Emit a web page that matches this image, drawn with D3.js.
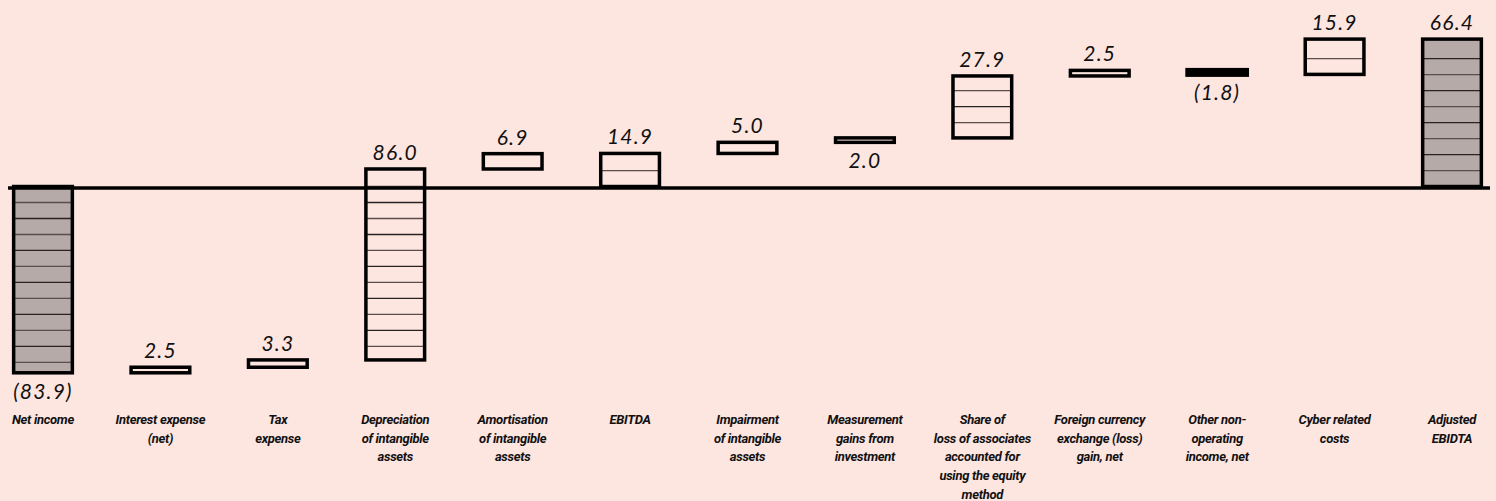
<!DOCTYPE html>
<html>
<head>
<meta charset="utf-8">
<script src="https://cdn.jsdelivr.net/npm/d3@7"></script>
<style>
  body { margin: 0; background: #fde5e0; }
  svg { display: block; }
</style>
</head>
<body>
<div id="wrapper"></div>
<script>
// data
const categories = [
  "Net income", "Interest expense (net)", "Tax expense", "Depreciation of intangible assets",
  "Amortisation of intangible assets", "EBITDA", "Impairment of intangible assets",
  "Measurement gains from investment", "Share of loss of associates accounted for using the equity method",
  "Foreign currency exchange (loss) gain, net", "Other non-operating income, net",
  "Cyber related costs", "Adjusted EBIDTA"
];
const labelLines = [
  ["Net income"], ["Interest expense", "(net)"], ["Tax", "expense"],
  ["Depreciation", "of intangible", "assets"], ["Amortisation", "of intangible", "assets"],
  ["EBITDA"], ["Impairment", "of intangible", "assets"], ["Measurement", "gains from", "investment"],
  ["Share of", "loss of associates", "accounted for", "using the equity", "method"],
  ["Foreign currency", "exchange (loss)", "gain, net"], ["Other non-", "operating", "income, net"],
  ["Cyber related", "costs"], ["Adjusted", "EBIDTA"]
];
const values = [-83.9, 2.5, 3.3, 86.0, 6.9, 14.9, 5.0, 2.0, 27.9, 2.5, -1.8, 15.9, 66.4];
// total = starts at zero and filled, subtotal = starts at zero, delta = floats
const kinds = ["total", "delta", "delta", "delta", "delta", "subtotal", "delta",
  "delta", "delta", "delta", "delta", "delta", "total"];
const labelsBelow = ["Measurement gains from investment"];

function drawWaterfall() {
  const width = 1496, height = 501;

  // running sum for the floating bars
  let cum = 0;
  const bars = categories.map((c, i) => {
    let lo, hi;
    if (kinds[i] === "delta") {
      lo = Math.min(cum, cum + values[i]);
      hi = Math.max(cum, cum + values[i]);
      cum += values[i];
    } else {
      lo = Math.min(0, values[i]);
      hi = Math.max(0, values[i]);
      cum = values[i];
    }
    return { cat: c, value: values[i], kind: kinds[i], lo, hi, lines: labelLines[i] };
  });

  const svg = d3.select("#wrapper").append("svg")
    .attr("width", width)
    .attr("height", height);

  svg.append("rect").attr("width", width).attr("height", height).attr("fill", "#fde5e0");

  const xScale = d3.scalePoint().domain(categories).range([43, 1452]);
  const barW = xScale.step() * 0.5;

  const yScale = d3.scaleLinear()
    .domain([d3.min(bars, d => d.lo), d3.max(bars, d => d.hi)])
    .range([372.8, 39.1]);

  const fmt = v => v < 0 ? `(${d3.format(".1f")(-v)})` : d3.format(".1f")(v);

  const g = svg.append("g");

  const barG = g.selectAll("g.bar")
    .data(bars)
    .enter()
    .append("g")
    .attr("class", "bar");

  // fill
  barG.append("rect")
    .attr("x", d => xScale(d.cat) - barW / 2)
    .attr("y", d => yScale(d.hi))
    .attr("width", barW)
    .attr("height", d => yScale(d.lo) - yScale(d.hi))
    .attr("fill", d => d.kind === "total" ? "#b6aaa8" : (d.value < 0 ? "#000" : "none"));

  // hatch lines inside the bars, every 7.2 units on a grid from zero
  const step = 7.2;
  barG.each(function (d) {
    if (d.kind === "delta" && d.value < 0) return;
    const ticks = d3.range(Math.ceil(d.lo / step), Math.floor(d.hi / step) + 1)
      .map(k => k * step)
      .filter(v => v - d.lo > 2.5 && d.hi - v > 2);
    d3.select(this).selectAll("line.hatch")
      .data(ticks)
      .enter()
      .append("line")
      .attr("class", "hatch")
      .attr("x1", xScale(d.cat) - barW / 2)
      .attr("x2", xScale(d.cat) + barW / 2)
      .attr("y1", v => yScale(v))
      .attr("y2", v => yScale(v))
      .attr("stroke", (v, i) => i % 2 ? "#2a2222" : "#5a4e4c")
      .attr("stroke-width", 1.3);
  });

  // outline
  barG.append("rect")
    .attr("x", d => xScale(d.cat) - barW / 2)
    .attr("y", d => yScale(d.hi))
    .attr("width", barW)
    .attr("height", d => yScale(d.lo) - yScale(d.hi))
    .attr("fill", "none")
    .attr("stroke", "#000")
    .attr("stroke-width", d => d.value < 0 && d.kind === "delta" ? 5 : 3.5);

  // zero line
  g.append("line")
    .attr("x1", 8)
    .attr("x2", 1490)
    .attr("y1", yScale(0) + 1.5)
    .attr("y2", yScale(0) + 1.5)
    .attr("stroke", "#000")
    .attr("stroke-width", 3.3);

  // value labels
  barG.append("text")
    .attr("x", d => xScale(d.cat))
    .attr("y", d => {
      const below = d.value < 0 || labelsBelow.includes(d.cat);
      return below ? yScale(d.lo) + 26 : yScale(d.hi) - 9;
    })
    .attr("text-anchor", "middle")
    .style("font-family", "Lato, 'Open Sans', sans-serif")
    .style("font-style", "italic")
    .style("font-size", "21px")
    .style("letter-spacing", "1.2px")
    .style("fill", "#111")
    .text(d => fmt(d.value));

  // category labels
  const catText = g.selectAll("text.cat")
    .data(bars)
    .enter()
    .append("text")
    .attr("class", "cat")
    .attr("text-anchor", "middle")
    .style("font-family", "Roboto, sans-serif")
    .style("font-style", "italic")
    .style("font-weight", "bold")
    .style("font-size", "13px")
    .style("letter-spacing", "-0.3px")
    .style("fill", "#111");

  catText.selectAll("tspan")
    .data(d => d.lines.map(t => ({ t, x: xScale(d.cat) })))
    .enter()
    .append("tspan")
    .attr("x", d => d.x)
    .attr("y", (d, i) => 424 + i * 18.7)
    .text(d => d.t);
}

drawWaterfall();
</script>
</body>
</html>
